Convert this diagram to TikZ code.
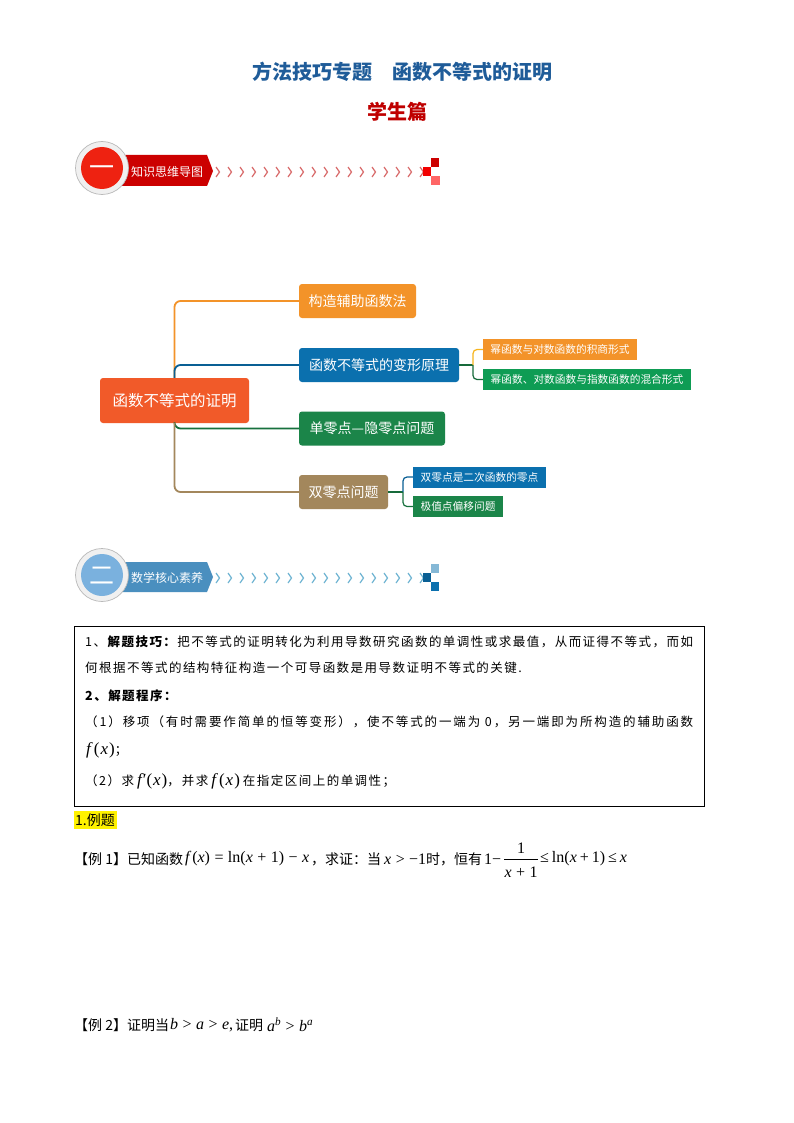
\documentclass[tikz,border=0pt]{standalone}
\usepackage{fontspec}
\setmainfont{Noto Sans CJK SC}
\newfontfamily\bodyf[LetterSpace=11.8]{Noto Sans CJK SC}
\newfontfamily\bodyg[LetterSpace=15]{Noto Sans CJK SC}
\newfontfamily\tmf{Liberation Serif}
\newcommand{\mi}[1]{{\tmf\itshape #1}}
\newcommand{\mr}[1]{{\tmf #1}}
\newcommand{\fxm}{{\tmf\fontsize{17}{17}\selectfont\itshape f\hspace{3pt}\upshape(\hspace{1pt}\itshape x\upshape\hspace{1pt})}}
\newcommand{\fpxm}{{\tmf\fontsize{17}{17}\selectfont\itshape f\hspace{1pt}\upshape′(\hspace{1pt}\itshape x\upshape\hspace{1pt})}}
\usetikzlibrary{calc}
\definecolor{ttl}{HTML}{1F5C99}
\definecolor{cRoot}{HTML}{F15A29}
\definecolor{cOrange}{HTML}{F39329}
\definecolor{cBlue}{HTML}{0B70AE}
\definecolor{cGreen}{HTML}{1B8549}
\definecolor{cBrown}{HTML}{A3875C}
\definecolor{cSubG}{HTML}{0E9C54}
\definecolor{chevR}{HTML}{D96C6C}
\definecolor{chevB}{HTML}{6FB4D2}
\definecolor{banB}{HTML}{4A8FBF}
\definecolor{kerB}{HTML}{7AB1DE}
\definecolor{kerR}{HTML}{EE2211}
\tikzset{
  mainbox/.style={rounded corners=3pt,inner sep=0pt,text=white,font=\fontsize{14}{16}\selectfont},
  subbox/.style={inner sep=0pt,text=white,font=\fontsize{10.7}{13}\selectfont},
  conn/.style={line width=1.8pt,rounded corners=6pt},
  subconn/.style={line width=1.2pt,rounded corners=4pt},
  txt/.style={anchor=west,inner sep=0pt,font=\bodyf\fontsize{12.5}{15}\selectfont},
  txtb/.style={anchor=west,inner sep=0pt,font=\bodyg\fontsize{12.5}{15}\selectfont},
  ex/.style={anchor=west,inner sep=0pt,font=\fontsize{14}{17}\selectfont},
  mth/.style={anchor=west,inner sep=0pt,font=\tmf\fontsize{16}{18}\selectfont},
  bannertext/.style={inner sep=0pt,text=white,font=\fontsize{12}{14}\selectfont},
  disc/.style={circle,inner sep=0pt,minimum size=53pt,fill=gray!12,draw=gray!55,line width=.7pt},
  kernel/.style={circle,inner sep=0pt,minimum size=42pt,text=white,font=\fontsize{25}{28}\selectfont},
}
\begin{document}
\begin{tikzpicture}[x=1pt,y=-1pt]
\useasboundingbox (0,0) rectangle (794,1123);
\fill[white] (0,0) rectangle (794,1123);
% titles
\node[inner sep=0pt,text=ttl,font=\bfseries\fontsize{20}{24}\selectfont] (title) at (402,72) {方法技巧专题\hspace{20pt}函数不等式的证明};
\node[inner sep=0pt,text=red!75!black,font=\bfseries\fontsize{20}{24}\selectfont] (sub) at (397,112) {学生篇};
% heading 1
\fill[red!80!black] (122,155) -- (207,155) -- (213,171) -- (207,186) -- (122,186) -- cycle;
\node[disc] (d1) at (102,168) {};
\node[kernel,fill=kerR] (k1) at (102,168) {\raisebox{-9pt}[0pt][0pt]{一}};
\node[bannertext] (b1) at (167,172) {知识思维导图};
\foreach \i in {0,...,17}
  \draw[line width=1.2pt,color=chevR] ({216+12*\i},167) -- ({219.5+12*\i},172) -- ({216+12*\i},177);
\fill[red!80!black] (431,158) rectangle (439,167);
\fill[red!95!black] (423,167) rectangle (431,176);
\fill[red!60!white] (431,176) rectangle (440,185);
% heading 2
\fill[banB] (122,562) -- (207,562) -- (213,577) -- (207,592) -- (122,592) -- cycle;
\node[disc] (d2) at (102,575) {};
\node[kernel,fill=kerB] (k2) at (102,575) {\raisebox{-9pt}[0pt][0pt]{二}};
\node[bannertext] (b2) at (167,578) {数学核心素养};
\foreach \i in {0,...,17}
  \draw[line width=1.2pt,color=chevB] ({216+12*\i},573) -- ({219.5+12*\i},578) -- ({216+12*\i},583);
\fill[cBlue!50!white] (431,564) rectangle (439,573);
\fill[cBlue!85!black] (423,573) rectangle (431,582);
\fill[cBlue] (431,582) rectangle (439,591);
% mind map
\node[mainbox,fill=cRoot,minimum width=149pt,minimum height=45pt,font=\fontsize{15.5}{18}\selectfont] (root) at (174.5,400.5) {函数不等式的证明};
\node[mainbox,fill=cOrange,minimum width=117pt,minimum height=34pt] (n1) at (357.5,301) {构造辅助函数法};
\node[mainbox,fill=cBlue,minimum width=160pt,minimum height=34pt] (n2) at (379,365) {函数不等式的变形原理};
\node[mainbox,fill=cGreen,minimum width=146pt,minimum height=34pt] (n3) at (372,428.5) {单零点—隐零点问题};
\node[mainbox,fill=cBrown,minimum width=89pt,minimum height=34pt] (n4) at (343.5,492) {双零点问题};
\node[subbox,fill=cOrange,minimum width=154pt,minimum height=21pt] (s1) at (560,349.5) {幂函数与对数函数的积商形式};
\node[subbox,fill=cSubG,minimum width=208pt,minimum height=21pt] (s2) at (587,379.5) {幂函数、对数函数与指数函数的混合形式};
\node[subbox,fill=cBlue,minimum width=133pt,minimum height=21pt] (s3) at (479.5,477) {双零点是二次函数的零点};
\node[subbox,fill=cGreen,minimum width=90pt,minimum height=21pt] (s4) at (458,506.5) {极值点偏移问题};
\draw[conn,cOrange] (root.north) |- (n1.west);
\draw[conn,cBlue!85!black] (root.north) |- (n2.west);
\draw[conn,cGreen!85!black] (root.south) |- (n3.west);
\draw[conn,cBrown] (root.south) |- (n4.west);
\coordinate (j1) at (473,365);
\coordinate (j2) at (403,492);
\draw[subconn,cGreen!80!black] (n2.east) -- (j1);
\draw[subconn,cOrange!70!yellow] (j1) |- (s1.west);
\draw[subconn,cGreen!80!black] (j1) |- (s2.west);
\draw[subconn,cGreen!80!black] (n4.east) -- (j2);
\draw[subconn,cBlue!85!black] (j2) |- (s3.west);
\draw[subconn,cGreen!85!black] (j2) |- (s4.west);
% frame
\draw[black,line width=.9pt] (74.5,626) rectangle (704,806);
\node[txt] (l1) at (85,642) {1、\textbf{解题技巧：}把不等式的证明转化为利用导数研究函数的单调性或求最值，从而证得不等式，而如};
\node[txt] (l2) at (85,668) {何根据不等式的结构特征构造一个可导函数是用导数证明不等式的关键.};
\node[txt] (l3) at (85,696) {\textbf{2、解题程序：}};
\node[txtb] (l4) at (85,722) {（1）移项（有时需要作简单的恒等变形），使不等式的一端为 0，另一端即为所构造的辅助函数};
\node[txt] (l5) at (86,750) {\fxm；};
\node[txt] (l6) at (85,781) {（2）求\hspace{3pt}\fpxm，\hspace{2pt}并求\hspace{3pt}\fxm\hspace{3pt}在指定区间上的单调性；};
% examples
\fill[yellow] (74,811) rectangle (117,829);
\node[ex] (h1) at (75,820) {1.例题};
\node[ex] (e1a) at (74,859) {【例 1】已知函数};
\node[mth] (e1b) at (185,859) {\mi{f}\,(\mi{x})\;=\;ln(\mi{x}\;+\;1)\;−\;\mi{x}};
\node[ex] (e1c) at (311,859) {，求证：当};
\node[mth] (e1d) at (384,859) {\mi{x}\;>\;−1};
\node[ex] (e1e) at (426,859) {时，恒有};
\node[mth] (e1f) at (484,859) {1−};
\node[mth,anchor=center] (num) at (521,848) {1};
\node[mth,anchor=center] (den) at (521,872) {\mi{x}\;+\;1};
\coordinate (barY) at (0,859.5);
\draw[black,line width=.8pt] (den.west |- barY) -- (den.east |- barY);
\node[mth] (e1g) at (540,859) {≤\hspace{3pt}ln(\mi{x}\hspace{3pt}+\hspace{3pt}1)\hspace{3pt}≤\hspace{3pt}\mi{x}};
\node[ex] (e2a) at (74,1025) {【例 2】证明当};
\node[mth] (e2b) at (170,1025) {\mi{b}\;>\;\mi{a}\;>\;\mi{e},};
\node[ex] (e2c) at (235,1025) {证明};
\node[mth] (e2d) at (267,1025) {\mi{a}\textsuperscript{\mi{b}}\;>\;\mi{b}\textsuperscript{\mi{a}}};
\end{tikzpicture}
\end{document}
